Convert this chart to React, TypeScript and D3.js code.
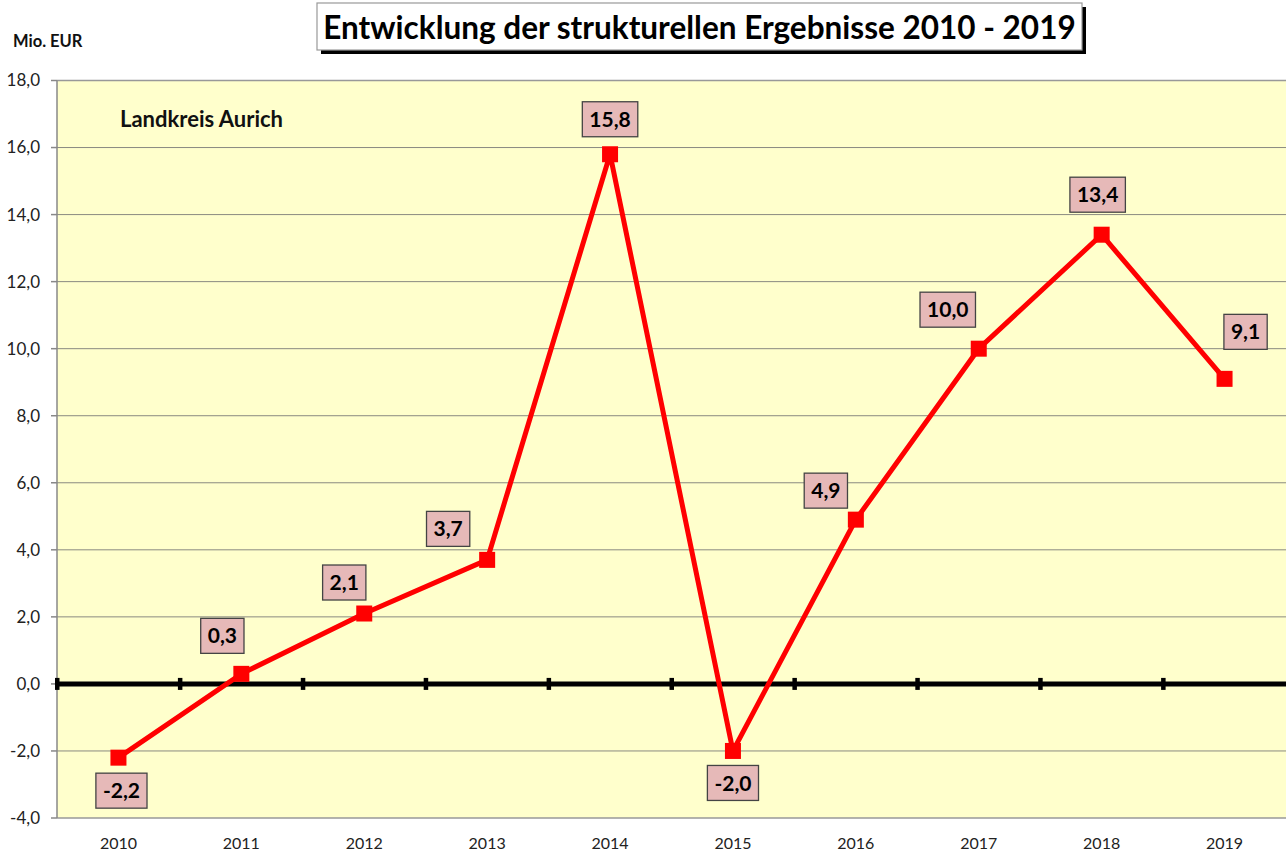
import React, { useEffect, useRef } from "react";
import * as d3 from "d3";

const years = ["2010", "2011", "2012", "2013", "2014", "2015", "2016", "2017", "2018", "2019"];
const values = [-2.2, 0.3, 2.1, 3.7, 15.8, -2.0, 4.9, 10.0, 13.4, 9.1];
const yTicks = [-4, -2, 0, 2, 4, 6, 8, 10, 12, 14, 16, 18];
const titleText = "Entwicklung der strukturellen Ergebnisse 2010 - 2019";
const unitText = "Mio. EUR";
const subtitleText = "Landkreis Aurich";

// label placement relative to the marker (layout, not data)
const labelOffsets: [number, number][] = [
  [3, 33], [-19, -38], [-20, -31], [-39, -31], [0, -35],
  [0, 32], [-30, -29], [-31, -39], [-4, -40], [21, -47],
];

const W = 1286;
const H = 856;
const FONT = "Lato, 'Open Sans', sans-serif";

export default function App() {
  const ref = useRef<SVGSVGElement>(null);

  useEffect(() => {
    const svg = d3.select(ref.current);
    svg.selectAll("*").remove();

    const left = 57, right = 1286, top = 80.5, bottom = 818;
    const x = d3.scaleBand<string>().domain(years).range([left, right]).padding(0);
    const y = d3.scaleLinear().domain([-4, 18]).range([bottom, top]);
    const cx = (yr: string) => (x(yr) as number) + x.bandwidth() / 2;
    const fmt = (v: number) => v.toFixed(1).replace(".", ",");

    svg.append("rect").attr("x", 0).attr("y", 0).attr("width", W).attr("height", H).attr("fill", "#fff");

    // plot background
    svg.append("rect").attr("x", left).attr("y", top).attr("width", right - left).attr("height", bottom - top)
      .attr("fill", "#FFFFCC");

    // gridlines
    svg.append("g").selectAll("line").data(yTicks.filter(t => t !== 0 && t !== -4 && t !== 18)).join("line")
      .attr("x1", left).attr("x2", right).attr("y1", d => y(d)).attr("y2", d => y(d))
      .attr("stroke", "#8a8a80").attr("stroke-width", 1);

    // borders
    svg.append("line").attr("x1", left).attr("x2", right).attr("y1", top).attr("y2", top).attr("stroke", "#999").attr("stroke-width", 1.5);
    svg.append("line").attr("x1", left).attr("x2", right).attr("y1", bottom).attr("y2", bottom).attr("stroke", "#999").attr("stroke-width", 1.5);
    svg.append("line").attr("x1", left).attr("x2", left).attr("y1", top).attr("y2", bottom).attr("stroke", "#888").attr("stroke-width", 1.5);

    // y ticks and labels
    const yg = svg.append("g");
    yg.selectAll("line").data(yTicks).join("line")
      .attr("x1", left - 6).attr("x2", left).attr("y1", d => y(d)).attr("y2", d => y(d))
      .attr("stroke", "#888").attr("stroke-width", 1.5);
    yg.selectAll("text").data(yTicks).join("text")
      .attr("x", 40).attr("y", d => y(d)).attr("dy", "0.35em")
      .attr("text-anchor", "end").attr("font-family", FONT).attr("font-size", 17)
      .attr("fill", "#222").text(d => fmt(d));

    // x labels
    svg.append("g").selectAll("text").data(years).join("text")
      .attr("x", d => cx(d)).attr("y", 843).attr("dy", "0.35em")
      .attr("text-anchor", "middle").attr("font-family", FONT).attr("font-size", 16)
      .attr("fill", "#222").text(d => d);

    // zero line
    const y0 = y(0);
    svg.append("line").attr("x1", left).attr("x2", right).attr("y1", y0).attr("y2", y0)
      .attr("stroke", "#000").attr("stroke-width", 5);
    const bounds = years.map(d => x(d) as number);
    svg.append("g").selectAll("rect").data(bounds).join("rect")
      .attr("x", d => d - 2).attr("y", y0 - 6).attr("width", 4.5).attr("height", 12).attr("fill", "#000");

    // line
    const line = d3.line<number>().x((_, i) => cx(years[i])).y(d => y(d));
    svg.append("path").datum(values).attr("d", line).attr("fill", "none")
      .attr("stroke", "#FF0000").attr("stroke-width", 5).attr("stroke-linejoin", "miter");

    // markers
    const ms = 16;
    svg.append("g").selectAll("rect").data(values).join("rect")
      .attr("x", (_, i) => cx(years[i]) - ms / 2).attr("y", d => y(d) - ms / 2)
      .attr("width", ms).attr("height", ms).attr("fill", "#FF0000");

    // data labels
    const lg = svg.append("g");
    values.forEach((v, i) => {
      const px = cx(years[i]) + labelOffsets[i][0];
      const py = y(v) + labelOffsets[i][1];
      const g = lg.append("g");
      const rect = g.append("rect");
      const t = g.append("text").attr("x", px).attr("y", py).attr("dy", "0.36em")
        .attr("text-anchor", "middle").attr("font-family", FONT).attr("font-weight", "bold")
        .attr("font-size", 21).attr("fill", "#000").text(fmt(v));
      const w = (t.node() as SVGTextElement).getComputedTextLength() + 14;
      rect.attr("x", px - w / 2).attr("y", py - 17.5).attr("width", w).attr("height", 35)
        .attr("fill", "#E6B9B8").attr("stroke", "#444").attr("stroke-width", 1.3);
    });

    // unit
    svg.append("text").attr("x", 13).attr("y", 41).attr("dy", "0.35em")
      .attr("font-family", FONT).attr("font-weight", "bold").attr("font-size", 16.5)
      .attr("fill", "#111").text(unitText);

    // subtitle
    svg.append("text").attr("x", 120).attr("y", 119).attr("dy", "0.35em")
      .attr("font-family", FONT).attr("font-weight", "bold").attr("font-size", 22)
      .attr("fill", "#111").text(subtitleText);

    // title box
    const tg = svg.append("g");
    const tb = { x: 317, y: 3, w: 765, h: 47 };
    tg.append("rect").attr("x", tb.x + 4).attr("y", tb.y + 4).attr("width", tb.w).attr("height", tb.h).attr("fill", "#000");
    tg.append("rect").attr("x", tb.x).attr("y", tb.y).attr("width", tb.w).attr("height", tb.h)
      .attr("fill", "#fff").attr("stroke", "#999").attr("stroke-width", 1.2);
    tg.append("text").attr("x", tb.x + tb.w / 2).attr("y", tb.y + tb.h / 2 + 1).attr("dy", "0.35em")
      .attr("text-anchor", "middle").attr("font-family", FONT).attr("font-weight", "bold")
      .attr("font-size", 31.5).attr("fill", "#000").text(titleText);
  }, []);

  return (
    <div style={{ position: "absolute", left: 0, top: 0 }}>
      <svg ref={ref} width={W} height={H} style={{ display: "block" }} />
    </div>
  );
}
